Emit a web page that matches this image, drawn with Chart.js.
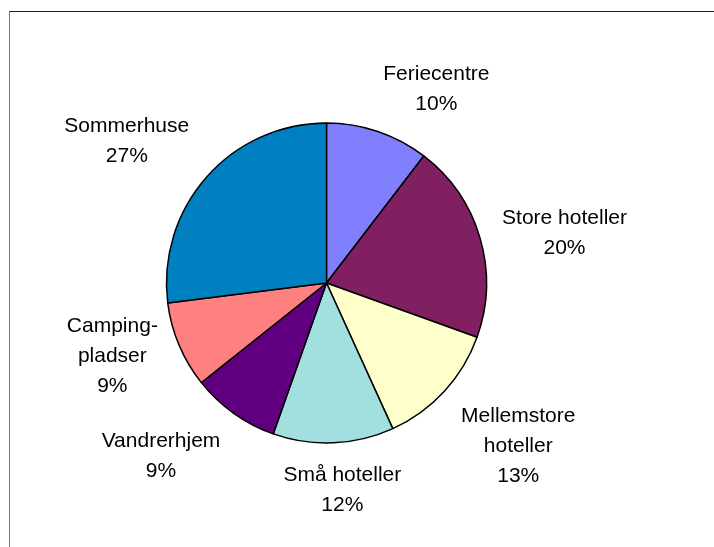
<!DOCTYPE html>
<html>
<head>
<meta charset="utf-8">
<script src="https://cdn.jsdelivr.net/npm/chart.js@4/dist/chart.umd.min.js"></script>
<style>
	html, body { margin: 0; padding: 0; background: #fff; }
	.wrap { position: relative; width: 714px; height: 547px; overflow: hidden; }
	.frame { position: absolute; left: 9px; top: 11px; width: 800px; height: 600px; border-top: 1px solid #222; border-left: 1px solid #777; }
	#chart { position: absolute; left: 0; top: 0; }
</style>
</head>
<body>
<div class="wrap">
	<div class="frame"></div>
	<canvas id="chart" width="714" height="547"></canvas>
</div>
<script>
// categories, clockwise from 12 o'clock
const categories = [
	['Feriecentre'],
	['Store hoteller'],
	['Mellemstore', 'hoteller'],
	['Små hoteller'],
	['Vandrerhjem'],
	['Camping-', 'pladser'],
	['Sommerhuse']
];

// share of overnight stays, in percent
const shares = [10.4, 20.1, 12.7, 12.2, 8.9, 8.7, 27.0];

const sliceColors = ['#8080ff', '#802060', '#ffffcc', '#a2e0e0', '#600080', '#ff8080', '#0080c0'];

const labelFont = '21px "Liberation Sans", Arial, sans-serif';
const lineHeight = 30;
const capHeight = 15;
const labelGap = 23;

function clamp(v, lo, hi) {
	return Math.max(lo, Math.min(hi, v));
}

// Excel-like outside labels: box sits off the slice's mid point, snapped to its corner
const outsideLabels = {
	id: 'outsideLabels',
	afterDatasetsDraw(chart) {
		const ctx = chart.ctx;
		const meta = chart.getDatasetMeta(0);
		const values = chart.data.datasets[0].data;
		const total = values.reduce(function (a, b) { return a + b; }, 0);

		ctx.save();
		ctx.font = labelFont;
		ctx.fillStyle = '#000';
		ctx.textAlign = 'center';
		ctx.textBaseline = 'alphabetic';

		meta.data.forEach(function (arc, i) {
			const p = arc.getProps(['x', 'y', 'startAngle', 'endAngle', 'outerRadius'], true);
			const mid = (p.startAngle + p.endAngle) / 2;
			const dx = Math.cos(mid);
			const dy = Math.sin(mid);
			const lines = categories[i].concat([Math.round(values[i] / total * 100) + '%']);

			const w = Math.max.apply(null, lines.map(function (t) { return ctx.measureText(t).width; }));
			const h = (lines.length - 1) * lineHeight + capHeight;

			const ax = p.x + dx * (p.outerRadius + labelGap);
			const ay = p.y + dy * (p.outerRadius + labelGap);
			const sx = clamp(dx * 3, -1, 1);
			const sy = Math.sign(dy) * clamp((Math.abs(dy) - 0.4) / 0.25, 0, 1);

			const cx = ax + sx * w / 2;
			const top = ay + sy * h / 2 - h / 2;

			lines.forEach(function (t, k) {
				ctx.fillText(t, cx, top + capHeight + k * lineHeight);
			});
		});

		ctx.restore();
	}
};

new Chart(document.getElementById('chart'), {
	type: 'pie',
	data: {
		labels: categories.map(function (c) { return c.join(' '); }),
		datasets: [{
			data: shares,
			backgroundColor: sliceColors,
			borderColor: '#000',
			borderWidth: 1.5,
			hoverOffset: 0
		}]
	},
	options: {
		responsive: false,
		devicePixelRatio: 1,
		animation: false,
		radius: 160,
		layout: { padding: { left: 0, right: 61, top: 19, bottom: 0 } },
		plugins: {
			legend: { display: false },
			tooltip: { enabled: false }
		}
	},
	plugins: [outsideLabels]
});
</script>
</body>
</html>
